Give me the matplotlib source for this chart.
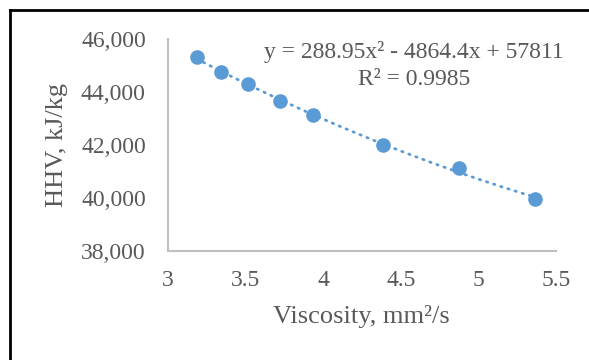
import numpy as np
import matplotlib
matplotlib.use("Agg")
import matplotlib.pyplot as plt
from matplotlib.lines import Line2D

# data
viscosity = [3.185, 3.34, 3.517, 3.72, 3.934, 4.387, 4.877, 5.365]
hhv = [45310, 44766, 44302, 43660, 43132, 42000, 41120, 39962]

# trendline coefficients from the chart label (a*x^2 + b*x + c)
trend_coef = [288.95, -4864.4, 57811]
trend_label = "y = 288.95x² - 4864.4x + 57811"
r2_label = "R² = 0.9985"

x_ticks = [3, 3.5, 4, 4.5, 5, 5.5]
y_ticks = [38000, 40000, 42000, 44000, 46000]

BLUE = "#5b9bd5"
GREY_TXT = "#595959"
GREY_AX = "#bfbfbf"

plt.rcParams["font.family"] = ["Liberation Serif", "DejaVu Serif"]

fig = plt.figure(figsize=(5.89, 3.6), dpi=100)
ax = fig.add_axes([0.2852, 0.3028, 0.6588, 0.5889])

# dotted polynomial trendline over the data range
xs = np.linspace(min(viscosity), max(viscosity), 200)
ax.plot(xs, np.polyval(trend_coef, xs), color=BLUE, lw=2.0,
        linestyle=(0, (0.5, 2.2)), dash_capstyle="round", zorder=2)
ax.plot(viscosity, hhv, "o", color=BLUE, ms=9.5, zorder=3)

ax.set_xlim(3, 5.5)
ax.set_ylim(38000, 46000)
ax.set_xticks(x_ticks)
ax.set_xticklabels([f"{t:g}" for t in x_ticks])
ax.set_yticks(y_ticks)
ax.set_yticklabels([f"{t:,}" for t in y_ticks])
ax.tick_params(length=0, labelsize=17, colors=GREY_TXT)
ax.tick_params(axis="y", pad=16)
ax.tick_params(axis="x", pad=14)

for s in ["top", "right"]:
    ax.spines[s].set_visible(False)
for s in ["left", "bottom"]:
    ax.spines[s].set_color(GREY_AX)
    ax.spines[s].set_linewidth(1.5)

fig.text(0.613, 0.120, "Viscosity, mm²/s", fontsize=19, color=GREY_TXT,
         ha="center", va="center")
fig.text(0.097, 0.597, "HHV, kJ/kg", fontsize=19, color=GREY_TXT,
         ha="center", va="center", rotation=90)

ax.text(0.703, 0.855, trend_label, transform=fig.transFigure, fontsize=17,
        color=GREY_TXT, ha="center", va="center")
ax.text(0.703, 0.778, r2_label, transform=fig.transFigure, fontsize=17,
        color=GREY_TXT, ha="center", va="center")

# outer frame (top and left edges visible in the crop)
fig.add_artist(Line2D([10 / 589, 1.0], [1 - 10 / 360, 1 - 10 / 360],
                      transform=fig.transFigure, color="black", lw=2))
fig.add_artist(Line2D([10 / 589, 10 / 589], [0, 1 - 10 / 360],
                      transform=fig.transFigure, color="black", lw=2))

fig.savefig("out.png", dpi=100)
